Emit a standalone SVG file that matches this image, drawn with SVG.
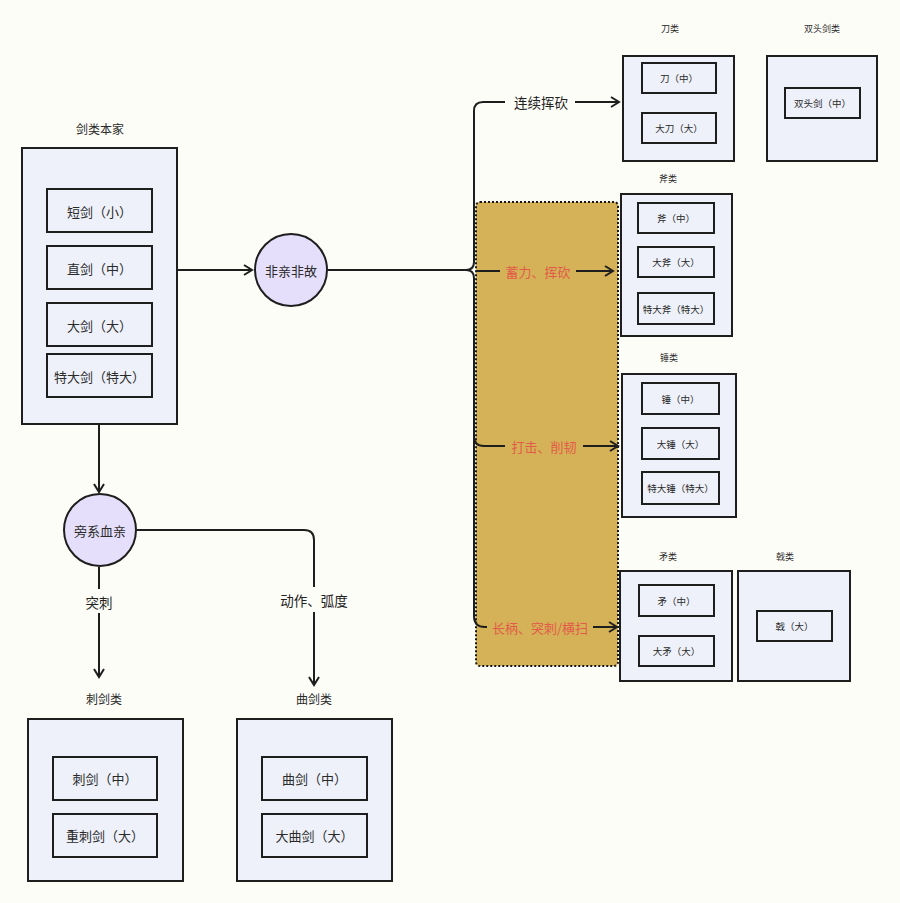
<svg xmlns="http://www.w3.org/2000/svg" width="900" height="903" viewBox="0 0 900 903">
<defs>
<style>
.box{fill:#eef1f9;stroke:#1e1e1e;stroke-width:2}
.inner{fill:#eef1f9;stroke:#1e1e1e;stroke-width:2}
.circ{fill:#e6dffb;stroke:#1e1e1e;stroke-width:2}
.t{font-family:"Noto Sans CJK SC","Noto Sans",sans-serif;fill:#2a2a2a;text-anchor:middle;dominant-baseline:central}
.big{font-size:13px}
.sm{font-size:9.5px}
.lbl{font-size:12px}
.slbl{font-size:9px}
.el{font-size:13.5px;fill:#222}
.red{font-size:13px;fill:#e25b4a}
.ln{fill:none;stroke:#1e1e1e;stroke-width:2}
</style>
<marker id="ar" viewBox="0 0 12 12" refX="10" refY="6" markerWidth="12" markerHeight="12" markerUnits="userSpaceOnUse" orient="auto">
<path d="M2,1 L10,6 L2,11" fill="none" stroke="#1e1e1e" stroke-width="2"/>
</marker>
</defs>
<rect x="0" y="0" width="900" height="903" fill="#fdfdf8"/>

<g id="gold-band">
<rect x="476" y="202" width="142" height="464" rx="4" fill="#d5b257" stroke="#1a1a1a" stroke-width="2" stroke-dasharray="2,2"/>
</g>

<g id="connectors">
<path class="ln" d="M177,270 H252" marker-end="url(#ar)"/>
<path class="ln" d="M328,270 H466"/>
<path class="ln" d="M466,270 Q474,270 474,262 V111 Q474,102 483,102 H505"/>
<path class="ln" d="M575,102 H619" marker-end="url(#ar)"/>
<path class="ln" d="M466,270 Q474,270 474,278 V616 Q474,627 485,627 H487"/>
<path class="ln" d="M593,627 H617" marker-end="url(#ar)"/>
<path class="ln" d="M474,420 V436 Q474,446 484,446 H505"/>
<path class="ln" d="M583,446 H618" marker-end="url(#ar)"/>
<path class="ln" d="M476,271 H500"/>
<path class="ln" d="M576,271 H613" marker-end="url(#ar)"/>
<path class="ln" d="M99,424 V492" marker-end="url(#ar)"/>
<path class="ln" d="M99,567 V589"/>
<path class="ln" d="M99,613 V677" marker-end="url(#ar)"/>
<path class="ln" d="M137,530 H304 Q314,530 314,540 V587"/>
<path class="ln" d="M314,612 V685" marker-end="url(#ar)"/>
</g>

<g id="edge-labels">
<text class="t el" x="541" y="102">连续挥砍</text>
<text class="t red" x="538" y="271">蓄力、挥砍</text>
<text class="t red" x="544" y="446">打击、削韧</text>
<text class="t red" x="540" y="627">长柄、突刺/横扫</text>
<text class="t el" x="99" y="602">突刺</text>
<text class="t el" x="314" y="600">动作、弧度</text>
</g>

<g id="sword-family">
<text class="t lbl" x="100" y="128">剑类本家</text>
<rect class="box" x="22" y="148" width="155" height="276"/>
<rect class="inner" x="47" y="189" width="105" height="43"/>
<text class="t big" x="99.5" y="211">短剑（小）</text>
<rect class="inner" x="47" y="246" width="105" height="43"/>
<text class="t big" x="99.5" y="268">直剑（中）</text>
<rect class="inner" x="47" y="303" width="105" height="43"/>
<text class="t big" x="99.5" y="325">大剑（大）</text>
<rect class="inner" x="47" y="354" width="105" height="43"/>
<text class="t big" x="99.5" y="376">特大剑（特大）</text>
</g>

<g id="stranger">
<circle class="circ" cx="291" cy="270" r="36"/>
<text class="t big" x="291" y="270">非亲非故</text>
</g>

<g id="collateral">
<circle class="circ" cx="100" cy="530" r="36"/>
<text class="t big" x="100" y="530">旁系血亲</text>
</g>

<g id="thrust-sword">
<text class="t lbl" x="104" y="698">刺剑类</text>
<rect class="box" x="28" y="719" width="155" height="162"/>
<rect class="inner" x="53" y="757" width="104" height="43"/>
<text class="t big" x="105" y="778">刺剑（中）</text>
<rect class="inner" x="53" y="814" width="104" height="43"/>
<text class="t big" x="105" y="835">重刺剑（大）</text>
</g>

<g id="curved-sword">
<text class="t lbl" x="314" y="698">曲剑类</text>
<rect class="box" x="237" y="719" width="155" height="162"/>
<rect class="inner" x="262" y="757" width="105" height="43"/>
<text class="t big" x="314.5" y="778">曲剑（中）</text>
<rect class="inner" x="262" y="814" width="105" height="43"/>
<text class="t big" x="314.5" y="835">大曲剑（大）</text>
</g>

<g id="blade">
<text class="t slbl" x="670" y="28">刀类</text>
<rect class="box" x="623" y="56" width="111" height="105"/>
<rect class="inner" x="642" y="63" width="74" height="30"/>
<text class="t sm" x="679" y="78">刀（中）</text>
<rect class="inner" x="642" y="113" width="74" height="30"/>
<text class="t sm" x="679" y="128">大刀（大）</text>
</g>

<g id="double-sword">
<text class="t slbl" x="822" y="28">双头剑类</text>
<rect class="box" x="767" y="56" width="110" height="105"/>
<rect class="inner" x="785" y="88" width="75" height="30"/>
<text class="t sm" x="822.5" y="103">双头剑（中）</text>
</g>

<g id="axe">
<text class="t slbl" x="668" y="178">斧类</text>
<rect class="box" x="621" y="194" width="111" height="142"/>
<rect class="inner" x="638" y="203" width="76" height="30"/>
<text class="t sm" x="676" y="218">斧（中）</text>
<rect class="inner" x="638" y="247" width="76" height="30"/>
<text class="t sm" x="676" y="262">大斧（大）</text>
<rect class="inner" x="638" y="293" width="76" height="31"/>
<text class="t sm" x="676" y="308.5">特大斧（特大）</text>
</g>

<g id="hammer">
<text class="t slbl" x="669" y="357">锤类</text>
<rect class="box" x="622" y="374" width="114" height="143"/>
<rect class="inner" x="642" y="383" width="77" height="31"/>
<text class="t sm" x="680.5" y="398.5">锤（中）</text>
<rect class="inner" x="642" y="428" width="77" height="31"/>
<text class="t sm" x="680.5" y="443.5">大锤（大）</text>
<rect class="inner" x="642" y="472" width="77" height="32"/>
<text class="t sm" x="680.5" y="488">特大锤（特大）</text>
</g>

<g id="spear">
<text class="t slbl" x="668" y="556">矛类</text>
<rect class="box" x="620" y="571" width="112" height="110"/>
<rect class="inner" x="639" y="585" width="75" height="31"/>
<text class="t sm" x="676.5" y="600.5">矛（中）</text>
<rect class="inner" x="639" y="636" width="75" height="30"/>
<text class="t sm" x="676.5" y="651">大矛（大）</text>
</g>

<g id="halberd">
<text class="t slbl" x="785" y="556">戟类</text>
<rect class="box" x="738" y="571" width="112" height="110"/>
<rect class="inner" x="757" y="611" width="75" height="30"/>
<text class="t sm" x="794.5" y="626">戟（大）</text>
</g>
</svg>
